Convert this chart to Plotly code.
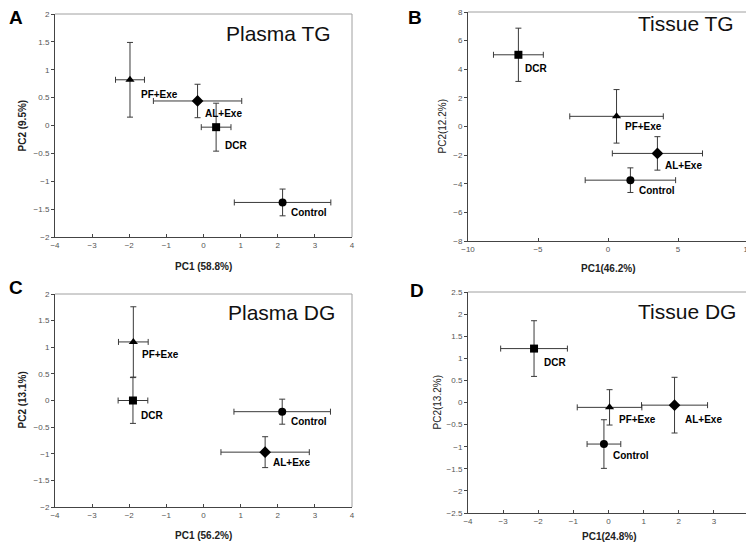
import plotly.graph_objects as go

W, H = 754, 543
OFF = 8  # page body margin: figure is drawn at (8, 8) in the page
FW, FH = W - OFF, H - OFF

groups = ["PF+Exe", "AL+Exe", "DCR", "Control"]
symbols = ["triangle-up", "diamond", "square", "circle"]

# Panel A: Plasma TG
a_x = [-1.98, -0.16, 0.34, 2.13]
a_y = [0.82, 0.44, -0.03, -1.38]
a_xerr = [0.39, 1.19, 0.40, 1.30]
a_yerr = [0.67, 0.30, 0.43, 0.24]
a_lx = [-1.75, -0.01, 0.52, 2.29]
a_ly = [0.565, 0.22, -0.36, -1.56]

# Panel B: Tissue TG
b_x = [0.61, 3.53, -6.40, 1.60]
b_y = [0.71, -1.88, 5.01, -3.75]
b_xerr = [3.34, 3.22, 1.78, 3.23]
b_yerr = [1.87, 1.17, 1.86, 0.86]
b_lx = [1.06, 3.95, -6.08, 2.08]
b_ly = [-0.01, -2.70, 4.03, -4.47]

# Panel C: Plasma DG
c_x = [-1.89, 1.66, -1.90, 2.12]
c_y = [1.10, -0.97, 0.00, -0.21]
c_xerr = [0.40, 1.19, 0.40, 1.30]
c_yerr = [0.66, 0.29, 0.43, 0.235]
c_lx = [-1.71, 1.82, -1.74, 2.30]
c_ly = [0.86, -1.17, -0.29, -0.40]

# Panel D: Tissue DG
d_x = [0.03, 1.88, -2.12, -0.13]
d_y = [-0.11, -0.06, 1.22, -0.94]
d_xerr = [0.92, 0.94, 0.95, 0.48]
d_yerr = [0.40, 0.63, 0.63, 0.55]
d_lx = [0.25, 2.12, -1.90, 0.08]
d_ly = [-0.38, -0.38, 0.90, -1.21]

panels = [
    dict(letter="A", title="Plasma TG", x=a_x, y=a_y, xe=a_xerr, ye=a_yerr, lx=a_lx, ly=a_ly,
         xr=[-4, 4], yr=[-2, 2], xd=1, yd=0.5, xt="PC1 (58.8%)", yt="PC2 (9.5%)", ybold=True,
         px=(55, 352), py=(14, 237), tpos=(333, 33), ytx=22, xty=266, lpos=(8, 6), lanchor="top"),
    dict(letter="B", title="Tissue TG", x=b_x, y=b_y, xe=b_xerr, ye=b_yerr, lx=b_lx, ly=b_ly,
         xr=[-10, 10], yr=[-8, 8], xd=5, yd=2, xt="PC1(46.2%)", yt="PC2(12.2%)", ybold=False,
         px=(468, 748), py=(12, 241), tpos=(736, 23), ytx=442, xty=268, lpos=(407, 6), lanchor="top"),
    dict(letter="C", title="Plasma DG", x=c_x, y=c_y, xe=c_xerr, ye=c_yerr, lx=c_lx, ly=c_ly,
         xr=[-4, 4], yr=[-2, 2], xd=1, yd=0.5, xt="PC1 (56.2%)", yt="PC2 (13.1%)", ybold=True,
         px=(55, 352), py=(294, 507), tpos=(337, 312), ytx=22, xty=535, lpos=(8, 287), lanchor="middle"),
    dict(letter="D", title="Tissue DG", x=d_x, y=d_y, xe=d_xerr, ye=d_yerr, lx=d_lx, ly=d_ly,
         xr=[-4, 4], yr=[-2.5, 2.5], xd=1, yd=0.5, xt="PC1(24.8%)", yt="PC2(13.2%)", ybold=False,
         px=(468, 749), py=(292, 513), tpos=(738, 311), ytx=437, xty=536, lpos=(409, 290), lanchor="middle"),
]


def fx(px):
    return (px - OFF) / FW


def fy(py):
    return 1 - (py - OFF) / FH


FONT = "Liberation Sans, Arial, sans-serif"
fig = go.Figure()
annotations = []
shapes = []
layout = {}

for i, p in enumerate(panels):
    n = "" if i == 0 else str(i + 1)
    xa, ya = "x" + n, "y" + n
    for g in range(4):
        fig.add_trace(go.Scatter(
            x=[p["x"][g]], y=[p["y"][g]], mode="markers",
            marker=dict(symbol=symbols[g], size=8 if symbols[g] != "diamond" else 9, color="black"),
            error_x=dict(type="data", array=[p["xe"][g]], color="#3a3a3a", thickness=1, width=3),
            error_y=dict(type="data", array=[p["ye"][g]], color="#3a3a3a", thickness=1, width=3),
            xaxis=xa, yaxis=ya, showlegend=False, hoverinfo="skip"))
        annotations.append(dict(x=p["lx"][g], y=p["ly"][g], xref=xa, yref=ya, text="<b>%s</b>" % groups[g],
                                showarrow=False, xanchor="left", yanchor="middle",
                                font=dict(family=FONT, size=10, color="black")))
    xdom = [fx(p["px"][0]), fx(p["px"][1])]
    ydom = [fy(p["py"][1]), fy(p["py"][0])]
    layout["xaxis" + n] = dict(domain=xdom, range=p["xr"], dtick=p["xd"], anchor=ya, automargin=False,
                               showgrid=False, zeroline=False, showline=True, linecolor="#444", linewidth=1,
                               ticks="inside", ticklen=3, tickcolor="#444", ticklabeloverflow="allow",
                               tickfont=dict(family=FONT, size=8, color="#555"))
    layout["yaxis" + n] = dict(domain=ydom, range=p["yr"], dtick=p["yd"], anchor=xa, automargin=False,
                               showgrid=False, zeroline=False, showline=True, linecolor="#444", linewidth=1,
                               ticks="outside", ticklen=3, tickcolor="#444", ticklabeloverflow="allow",
                               tickfont=dict(family=FONT, size=8, color="#555"))
    shapes.append(dict(type="line", xref="paper", yref="paper", x0=xdom[0], x1=xdom[1], y0=ydom[1], y1=ydom[1],
                       line=dict(color="#a0a0a0", width=1)))
    shapes.append(dict(type="line", xref="paper", yref="paper", x0=xdom[1], x1=xdom[1], y0=ydom[0], y1=ydom[1],
                       line=dict(color="#a0a0a0", width=1)))
    # panel title
    annotations.append(dict(x=fx(p["tpos"][0]), y=fy(p["tpos"][1]), xref="paper", yref="paper",
                            text=p["title"], showarrow=False, xanchor="right", yanchor="middle",
                            font=dict(family=FONT, size=21, color="#111")))
    # panel letter
    annotations.append(dict(x=fx(p["lpos"][0]), y=fy(p["lpos"][1]), xref="paper", yref="paper",
                            text="<b>%s</b>" % p["letter"], showarrow=False, xanchor="left",
                            yanchor=p["lanchor"], borderpad=0,
                            font=dict(family=FONT, size=19, color="black")))
    # x title
    annotations.append(dict(x=(xdom[0] + xdom[1]) / 2, y=fy(p["xty"]), xref="paper", yref="paper",
                            text="<b>%s</b>" % p["xt"], showarrow=False, xanchor="center", yanchor="middle",
                            font=dict(family=FONT, size=10, color="#222")))
    # y title
    yt = "<b>%s</b>" % p["yt"] if p["ybold"] else p["yt"]
    annotations.append(dict(x=fx(p["ytx"]), y=(ydom[0] + ydom[1]) / 2, xref="paper", yref="paper",
                            text=yt, showarrow=False, xanchor="center", yanchor="middle", textangle=-90,
                            font=dict(family=FONT, size=10, color="#222")))

fig.update_layout(width=FW, height=FH, margin=dict(l=0, r=0, t=0, b=0, autoexpand=False),
                  paper_bgcolor="white", plot_bgcolor="white",
                  annotations=annotations, shapes=shapes, **layout)
fig.write_html("out.html")
